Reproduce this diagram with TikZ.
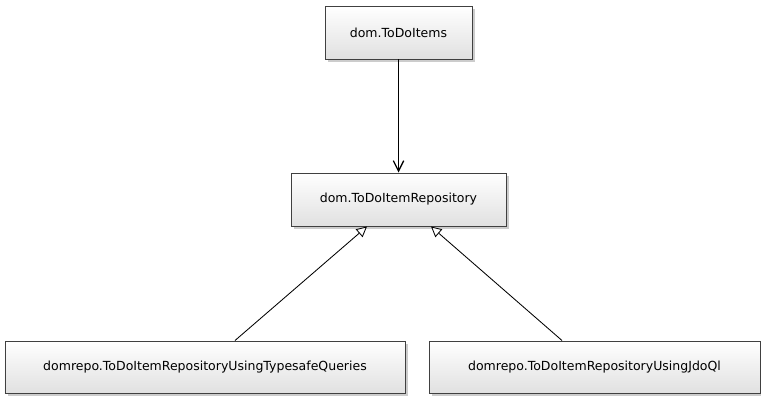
\documentclass[tikz,border=0pt]{standalone}
\usepackage{fontspec}
\setmainfont{DejaVu Sans}
\usetikzlibrary{arrows.meta, positioning, shadows}

\begin{document}
\begin{tikzpicture}[
block/.style={rectangle, draw=black!75, line width=0.7pt, top color=white, bottom color=black!12, inner sep=0pt, minimum height=1.325cm, font=\fontsize{8.9}{10}\selectfont, drop shadow={shadow xshift=0.07cm, shadow yshift=-0.07cm, fill=black!40, opacity=0.5}},
arrow/.style={line width=0.7pt, -{Straight Barb[length=2.6mm, width=2.6mm, line width=0.9pt]}},
realize/.style={line width=0.6pt, -{Triangle[open, length=2.6mm, width=2.6mm, fill=white]}}
]
\useasboundingbox (0,0) rectangle (19.025,-10);

\node (items) [block, minimum width=3.675cm] at (9.9625,-0.8125) {dom.ToDoItems};
\node (repo) [block, minimum width=5.375cm] at (9.9625,-4.9875) {dom.ToDoItemRepository};
\node (typesafe) [block, minimum width=10cm, minimum height=1.3cm] at (5.125,-9.175) {domrepo.ToDoItemRepositoryUsingTypesafeQueries};
\node (jdoql) [block, minimum width=8.275cm, minimum height=1.3cm] at (14.8625,-9.175) {domrepo.ToDoItemRepositoryUsingJdoQl};

\draw [arrow] (items) -- (repo);
\draw [realize] ([xshift=0.75cm]typesafe.north) -- ([xshift=-0.7875cm]repo.south);
\draw [realize] ([xshift=-0.8125cm]jdoql.north) -- ([xshift=0.8125cm]repo.south);

\end{tikzpicture}
\end{document}
